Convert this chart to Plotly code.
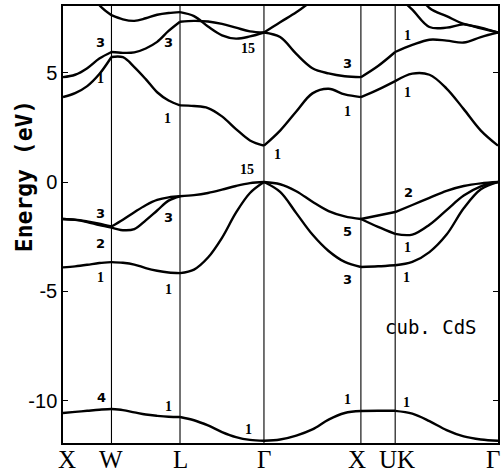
import plotly.graph_objects as go

# ---------------- data ----------------
sym_labels = ["X", "W", "L", "Γ", "X", "UK", "Γ"]
sym_k = [0.0, 0.5, 1.2071, 2.0731, 3.0731, 3.4267, 4.4874]

t5 = [0, 0.25, 0.5, 0.75, 1]
t7 = [0, 1/6, 2/6, 3/6, 4/6, 5/6, 1]
t3 = [0, 0.5, 1]

# X -> W
XW_bands = [
    [-10.55, -10.50, -10.45, -10.40, -10.37],
    [-3.90, -3.85, -3.78, -3.70, -3.66],
    [-1.69, -1.72, -1.80, -1.90, -2.03],
    [-1.69, -1.73, -1.83, -1.97, -2.08],
    [3.88, 4.06, 4.38, 4.93, 5.71],
    [4.79, 4.90, 5.20, 5.64, 5.94],
    [None, None, 9.00, 8.08, 7.62],
]
# W -> L
WL_bands = [
    [-10.37, -10.42, -10.52, -10.62, -10.68, -10.72, -10.73],
    [-3.66, -3.69, -3.77, -3.93, -4.05, -4.13, -4.16],
    [-2.03, -1.72, -1.38, -1.06, -0.82, -0.70, -0.65],
    [-2.08, -2.20, -2.15, -1.75, -1.30, -0.85, -0.65],
    [5.71, 5.70, 5.25, 4.70, 4.10, 3.72, 3.50],
    [5.94, 5.90, 5.92, 6.10, 6.40, 6.90, 7.32],
    [7.62, 7.43, 7.36, 7.48, 7.64, 7.72, 7.76],
]
# L -> Gamma
LG_bands = [
    [-10.73, -10.88, -11.12, -11.42, -11.65, -11.78, -11.82],
    [-4.16, -4.00, -3.45, -2.55, -1.40, -0.50, 0.00],
    [-0.65, -0.60, -0.50, -0.35, -0.18, -0.05, 0.00],
    [3.50, 3.47, 3.38, 3.00, 2.42, 1.90, 1.66],
    [7.32, 7.36, 7.33, 7.22, 7.05, 6.88, 6.83],
    [7.76, 7.58, 7.10, 6.70, 6.55, 6.65, 6.83],
]
# Gamma -> X
GX_bands = [
    [-11.82, -11.76, -11.58, -11.30, -10.85, -10.55, -10.46],
    [0.00, -0.45, -1.42, -2.40, -3.15, -3.65, -3.88],
    [0.00, -0.10, -0.42, -0.90, -1.33, -1.57, -1.69],
    [1.66, 2.35, 3.22, 4.05, 4.26, 4.00, 3.88],
    [6.83, 6.62, 5.85, 5.20, 4.96, 4.83, 4.79],
    [6.83, 7.30, 7.75, 8.30, None, None, None],
]
# X -> U/K
XK_bands = [
    [-10.46, -10.45, -10.45],
    [-3.88, -3.85, -3.80],
    [-1.69, -1.53, -1.37],
    [-1.69, -2.05, -2.37],
    [3.88, 4.22, 4.61],
    [4.79, 5.30, 5.94],
]
# K -> Gamma
KG_bands = [
    [-10.45, -10.58, -10.92, -11.33, -11.62, -11.76, -11.82],
    [-3.80, -3.65, -3.20, -2.40, -1.20, -0.33, 0.00],
    [-1.37, -1.05, -0.72, -0.40, -0.18, -0.06, 0.00],
    [-2.37, -2.40, -1.95, -1.28, -0.62, -0.20, 0.00],
    [4.61, 4.95, 4.90, 4.27, 3.33, 2.35, 1.66],
    [5.94, 6.26, 6.50, 6.46, 6.37, 6.62, 6.83],
    [8.60, 7.87, 7.08, 7.05, 7.20, 7.02, 6.83],
    [None, 9.00, 7.95, 7.58, 7.22, 7.05, 6.83],
]

# band symmetry labels
label_text = ["3", "1", "3", "1", "15", "1", "3", "1", "1", "1",
              "15", "3", "2", "3", "1", "1", "5", "3", "2", "1", "1",
              "4", "1", "1", "1", "1"]
label_k = [0.382, 0.382, 1.084, 1.073, 1.909, 2.208, 2.931, 2.931, 3.55, 3.55,
           1.899, 0.382, 0.382, 1.084, 0.382, 1.084, 2.931, 2.931, 3.56, 3.55, 3.54,
           0.402, 1.084, 1.909, 2.931, 3.54]
label_E = [6.39, 4.75, 6.39, 2.92, 6.12, 1.28, 5.43, 3.20, 6.71, 4.11,
           0.55, -1.42, -2.79, -1.60, -4.34, -4.89, -2.28, -4.47, -0.50, -3.00, -4.38,
           -9.86, -10.27, -11.32, -9.95, -10.05]

y_ticks = [-10, -5, 0, 5]
y_ticktext = ["-10", "-5", "0", "5"]

# ---------------- figure ----------------
fig = go.Figure()

segments = [
    (sym_k[0], sym_k[1], t5, XW_bands),
    (sym_k[1], sym_k[2], t7, WL_bands),
    (sym_k[2], sym_k[3], t7, LG_bands),
    (sym_k[3], sym_k[4], t7, GX_bands),
    (sym_k[4], sym_k[5], t3, XK_bands),
    (sym_k[5], sym_k[6], t7, KG_bands),
]
for k0, k1, ts, bands in segments:
    ks = [k0 + t * (k1 - k0) for t in ts]
    for band in bands:
        fig.add_trace(go.Scatter(
            x=ks, y=band, mode="lines",
            line=dict(color="black", width=2.4, shape="spline", smoothing=1.0),
            hoverinfo="skip", showlegend=False, connectgaps=False))

# vertical high-symmetry lines
for kk in sym_k[1:-1]:
    fig.add_shape(type="line", x0=kk, x1=kk, y0=0, y1=1, xref="x", yref="y domain",
                  line=dict(color="black", width=1.1))

for txt, kk, ee in zip(label_text, label_k, label_E):
    if txt in ("1", "15"):
        fnt = dict(family="Liberation Serif", size=14, color="black")
    else:
        fnt = dict(family="DejaVu Sans", size=13, color="black")
    fig.add_annotation(x=kk, y=ee, text="<b>" + txt + "</b>", showarrow=False, font=fnt,
                       xanchor="center", yanchor="middle")

fig.add_annotation(x=3.798, y=-6.62, text="cub. CdS", showarrow=False,
                   font=dict(family="DejaVu Sans Mono", size=19, color="black"),
                   xanchor="center", yanchor="middle")

# y axis title (placed like the original, above centre)
fig.add_annotation(x=-0.088, y=0.61, xref="paper", yref="paper", text="<b>Energy (eV)</b>",
                   textangle=-90, showarrow=False, xanchor="center", yanchor="middle",
                   font=dict(family="DejaVu Sans Mono", size=23, color="black"))

# x tick labels
x_shift = [4, 0, 0, 0, -4, 2, -5]
for lab, kk, sh in zip(sym_labels, sym_k, x_shift):
    fig.add_annotation(x=kk, y=0, xref="x", yref="paper", yshift=-16, xshift=sh,
                       text=lab, showarrow=False, yanchor="middle",
                       font=dict(family="Liberation Serif", size=25, color="black"))

fig.update_layout(
    width=501, height=473,
    margin=dict(l=63, r=3, t=6, b=30, autoexpand=False),
    paper_bgcolor="white", plot_bgcolor="white",
    xaxis=dict(range=[sym_k[0], sym_k[-1]], showgrid=False, zeroline=False,
               showticklabels=False, ticks="", showline=True, linecolor="black",
               linewidth=1.5, mirror=True, automargin=False),
    yaxis=dict(range=[-11.92, 8.04], showgrid=False, zeroline=False,
               tickvals=y_ticks, ticktext=y_ticktext, ticks="inside", ticklen=5,
               tickwidth=1, tickcolor="black", automargin=False,
               tickfont=dict(family="Liberation Sans", size=20, color="black"),
               showline=True, linecolor="black", linewidth=1.5, mirror="allticks"),
)

fig.write_html("out.html", config={"displayModeBar": False},
               post_script="document.body.style.margin='0px';document.body.style.overflow='hidden';")
